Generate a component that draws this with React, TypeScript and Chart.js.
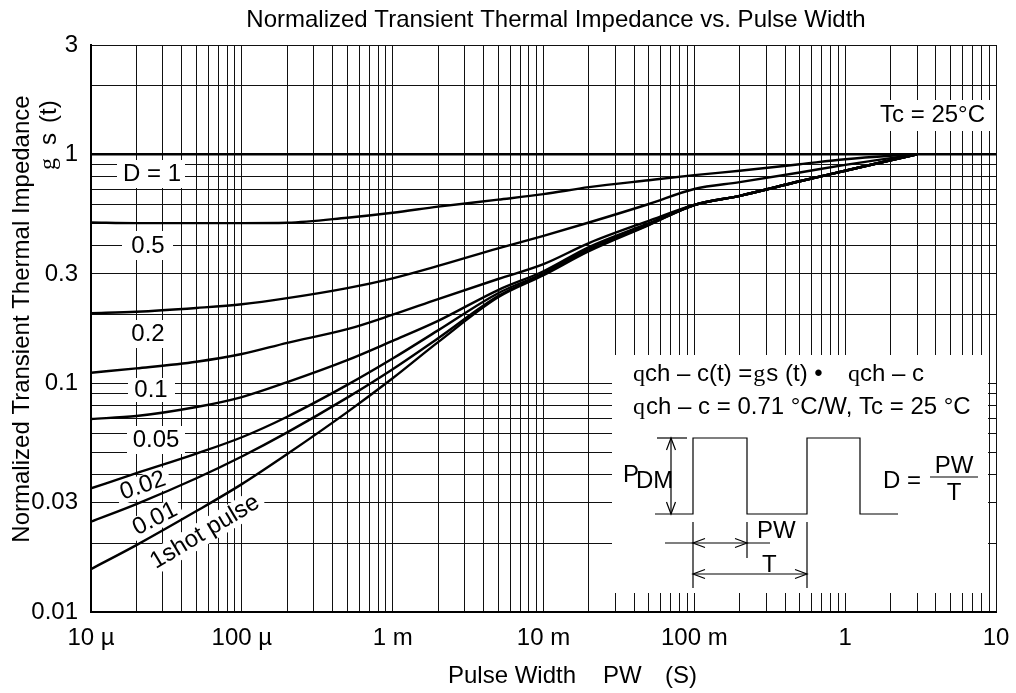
import { useEffect, useRef } from 'react';
import { Chart, registerables } from 'chart.js';

Chart.register(...registerables);

// ---------------- data ----------------
const pulseWidth = [1e-5, 2e-5, 5e-5, 1e-4, 2e-4, 5e-4, 1e-3, 2e-3, 5e-3, 1e-2, 2e-2, 5e-2, 0.1, 0.2, 0.5, 1, 2, 3];
const dutyOneWidth = [1e-5, 10];
const zthD1 = [1, 1];
const zthD05 = [0.503, 0.5, 0.5, 0.5, 0.502, 0.528, 0.555, 0.59, 0.633, 0.669, 0.718, 0.77, 0.81, 0.847, 0.904, 0.951, 0.985, 1];
const zthD02 = [0.202, 0.205, 0.213, 0.221, 0.235, 0.26, 0.287, 0.325, 0.388, 0.44, 0.503, 0.606, 0.705, 0.755, 0.832, 0.898, 0.961, 1];
const zthD01 = [0.111, 0.116, 0.124, 0.134, 0.15, 0.172, 0.199, 0.233, 0.285, 0.331, 0.409, 0.512, 0.6, 0.658, 0.762, 0.847, 0.941, 1];
const zthD005 = [0.0697, 0.0718, 0.0786, 0.0869, 0.101, 0.126, 0.153, 0.187, 0.255, 0.308, 0.393, 0.5, 0.6, 0.658, 0.762, 0.847, 0.941, 1];
const zthD002 = [0.0347, 0.0404, 0.0492, 0.058, 0.0713, 0.0982, 0.128, 0.17, 0.247, 0.302, 0.385, 0.495, 0.6, 0.658, 0.762, 0.847, 0.941, 1];
const zthD001 = [0.0248, 0.0296, 0.0384, 0.0478, 0.0609, 0.0864, 0.115, 0.157, 0.24, 0.299, 0.381, 0.492, 0.6, 0.658, 0.762, 0.847, 0.941, 1];
const zthSingle = [0.0154, 0.0196, 0.0276, 0.0362, 0.049, 0.0747, 0.105, 0.151, 0.237, 0.296, 0.377, 0.49, 0.6, 0.658, 0.762, 0.847, 0.941, 1];

const xTickValues = [1e-5, 1e-4, 1e-3, 1e-2, 1e-1, 1, 10];
const xTickLabels = ['10 µ', '100 µ', '1 m', '10 m', '100 m', '1', '10'];
const yTickValues = [0.01, 0.03, 0.1, 0.3, 1, 3];
const yTickLabels = ['0.01', '0.03', '0.1', '0.3', '1', '3'];

const seriesNames = ['D = 1', '0.5', '0.2', '0.1', '0.05', '0.02', '0.01', '1shot pulse'];

// ---------------- styling / layout ----------------
const SANS = '"Liberation Sans", Arial, Helvetica, sans-serif';
const SERIF = '"Liberation Serif", "Times New Roman", serif';
const F24 = `24px ${SANS}`;
const S24 = `24px ${SERIF}`;

const toPoints = (xs: number[], ys: number[]) => xs.map((x, i) => ({ x, y: ys[i] }));

const logGridTicks = (min: number, max: number) => {
  const out: { value: number }[] = [];
  for (let e = Math.floor(Math.log10(min)); e <= Math.ceil(Math.log10(max)); e++) {
    for (let m = 1; m < 10; m++) {
      const v = parseFloat((m * Math.pow(10, e)).toPrecision(6));
      if (v >= min * 0.99999 && v <= max * 1.00001) out.push({ value: v });
    }
  }
  return out;
};

const labelFor = (vals: number[], labels: string[]) => (value: any) => {
  const v = Number(value);
  const i = vals.findIndex((t) => Math.abs(t - v) / t < 1e-6);
  return i >= 0 ? labels[i] : '';
};

function text(ctx: CanvasRenderingContext2D, s: string, x: number, y: number, font = F24, align: CanvasTextAlign = 'left', base: CanvasTextBaseline = 'alphabetic') {
  ctx.font = font;
  ctx.textAlign = align;
  ctx.textBaseline = base;
  ctx.fillText(s, x, y);
  return x + ctx.measureText(s).width;
}

function line(ctx: CanvasRenderingContext2D, pts: number[][]) {
  ctx.beginPath();
  ctx.moveTo(pts[0][0], pts[0][1]);
  for (let i = 1; i < pts.length; i++) ctx.lineTo(pts[i][0], pts[i][1]);
  ctx.stroke();
}

function arrowHead(ctx: CanvasRenderingContext2D, tx: number, ty: number, dx: number, dy: number) {
  const len = 12, half = 4.5;
  const bx = tx - dx * len, by = ty - dy * len;
  const px = -dy, py = dx;
  line(ctx, [[bx + px * half, by + py * half], [tx, ty], [bx - px * half, by - py * half]]);
}

const overlayPlugin = {
  id: 'overlay',
  beforeDatasetsDraw(chart: any) {
    const ctx: CanvasRenderingContext2D = chart.ctx;
    ctx.save();
    ctx.fillStyle = '#fff';
    ctx.fillRect(612, 355, 376, 238);
    const boxes = [
      [117, 160, 68, 28],
      [122, 231, 51, 29],
      [122, 320, 51, 28],
      [128, 378, 47, 24],
      [127, 426, 58, 28],
      [868, 100, 122, 31],
    ];
    for (const [x, y, w, h] of boxes) ctx.fillRect(x, y, w, h);
    const rot = [
      { cx: 143, cy: 486, w: 56, h: 22, a: -0.33 },
      { cx: 155, cy: 519, w: 56, h: 22, a: -0.47 },
      { cx: 205, cy: 532, w: 132, h: 24, a: -0.54 },
    ];
    for (const r of rot) {
      ctx.save();
      ctx.translate(r.cx, r.cy);
      ctx.rotate(r.a);
      ctx.fillRect(-r.w / 2, -r.h / 2, r.w, r.h);
      ctx.restore();
    }
    ctx.restore();
  },
  afterDatasetsDraw(chart: any) {
    const ctx: CanvasRenderingContext2D = chart.ctx;
    ctx.save();
    ctx.fillStyle = '#000';
    ctx.strokeStyle = '#000';

    text(ctx, 'Normalized Transient Thermal Impedance vs. Pulse Width', 556, 20, F24, 'center', 'middle');
    text(ctx, 'Pulse Width', 448, 676, F24, 'left', 'middle');
    text(ctx, 'PW', 603, 676, F24, 'left', 'middle');
    text(ctx, '(S)', 665, 676, F24, 'left', 'middle');

    ctx.save();
    ctx.translate(22, 319);
    ctx.rotate(-Math.PI / 2);
    text(ctx, 'Normalized Transient Thermal Impedance', 0, 0, F24, 'center', 'middle');
    ctx.restore();
    ctx.save();
    ctx.translate(49, 0);
    ctx.rotate(-Math.PI / 2);
    text(ctx, 'g', -170, 0, S24, 'left', 'middle');
    text(ctx, 's', -145, 0, F24, 'left', 'middle');
    text(ctx, '(t)', -123, 0, F24, 'left', 'middle');
    ctx.restore();

    text(ctx, seriesNames[0], 123, 174, F24, 'left', 'middle');
    text(ctx, seriesNames[1], 148, 246, F24, 'center', 'middle');
    text(ctx, seriesNames[2], 148, 334, F24, 'center', 'middle');
    text(ctx, seriesNames[3], 151, 390, F24, 'center', 'middle');
    text(ctx, seriesNames[4], 156, 440, F24, 'center', 'middle');
    const rl = [
      { s: seriesNames[5], cx: 143, cy: 486, a: -0.33 },
      { s: seriesNames[6], cx: 155, cy: 519, a: -0.47 },
      { s: seriesNames[7], cx: 205, cy: 532, a: -0.54 },
    ];
    for (const r of rl) {
      ctx.save();
      ctx.translate(r.cx, r.cy);
      ctx.rotate(r.a);
      text(ctx, r.s, 0, 0, F24, 'center', 'middle');
      ctx.restore();
    }
    text(ctx, 'Tc = 25°C', 985, 115, F24, 'right', 'middle');

    // inset formulas
    let x = text(ctx, 'q', 633, 381, S24);
    x = text(ctx, 'ch – c(t) =', x, 381);
    x = text(ctx, 'g', x + 1, 381, S24);
    x = text(ctx, 's (t) •', x + 1, 381);
    x = text(ctx, 'q', 848, 381, S24);
    text(ctx, 'ch – c', x, 381);
    x = text(ctx, 'q', 633, 414, S24);
    text(ctx, 'ch – c = 0.71 °C/W, Tc = 25 °C', x + 1, 414);

    // pulse diagram
    ctx.lineWidth = 1.2;
    line(ctx, [[655, 514], [693, 514], [693, 438], [747, 438], [747, 514], [807, 514], [807, 438], [860, 438], [860, 514], [898, 514]]);
    line(ctx, [[657, 438], [687, 438]]);
    line(ctx, [[671, 438], [671, 514]]);
    arrowHead(ctx, 671, 438, 0, -1);
    arrowHead(ctx, 671, 514, 0, 1);
    text(ctx, 'P', 623, 482);
    text(ctx, 'DM', 636, 488);
    line(ctx, [[693, 522], [693, 588]]);
    line(ctx, [[747, 522], [747, 558]]);
    line(ctx, [[807, 522], [807, 588]]);
    line(ctx, [[665, 543], [770, 543]]);
    arrowHead(ctx, 693, 543, -1, 0);
    arrowHead(ctx, 747, 543, 1, 0);
    text(ctx, 'PW', 757, 538);
    line(ctx, [[693, 574], [807, 574]]);
    arrowHead(ctx, 693, 574, -1, 0);
    arrowHead(ctx, 807, 574, 1, 0);
    text(ctx, 'T', 762, 572);
    text(ctx, 'D =', 883, 488);
    text(ctx, 'PW', 954, 473, F24, 'center');
    line(ctx, [[930, 477], [978, 477]]);
    text(ctx, 'T', 954, 500, F24, 'center');

    ctx.restore();
  },
};

export default function App() {
  const ref = useRef<HTMLCanvasElement>(null);
  useEffect(() => {
    const series = [zthD05, zthD02, zthD01, zthD005, zthD002, zthD001, zthSingle];
    const datasets: any[] = [
      { label: seriesNames[0], data: toPoints(dutyOneWidth, zthD1) },
      ...series.map((s, i) => ({ label: seriesNames[i + 1], data: toPoints(pulseWidth, s) })),
    ].map((d) => ({
      ...d,
      borderColor: '#000',
      borderWidth: 2.4,
      pointRadius: 0,
      fill: false,
      cubicInterpolationMode: 'monotone',
    }));

    const gridStyle = { color: '#111', lineWidth: 1, drawTicks: false };
    const chart = new Chart(ref.current as HTMLCanvasElement, {
      type: 'line',
      data: { datasets },
      options: {
        animation: false,
        responsive: false,
        layout: { padding: { left: 0, top: 45, right: 20, bottom: 0 } },
        plugins: { legend: { display: false }, tooltip: { enabled: false }, title: { display: false } },
        scales: {
          x: {
            type: 'logarithmic',
            min: 1e-5,
            max: 10,
            afterBuildTicks: (s: any) => { s.ticks = logGridTicks(1e-5, 10); },
            afterFit: (s: any) => { s.height = 81; s.paddingLeft = 0; s.paddingRight = 0; },
            grid: gridStyle,
            border: { display: true, color: '#000', width: 2 },
            ticks: {
              autoSkip: false,
              maxRotation: 0,
              minRotation: 0,
              padding: 12,
              color: '#000',
              font: { family: SANS, size: 24 },
              callback: labelFor(xTickValues, xTickLabels),
            },
          },
          y: {
            type: 'logarithmic',
            min: 0.01,
            max: 3,
            afterBuildTicks: (s: any) => { s.ticks = logGridTicks(0.01, 3); },
            afterFit: (s: any) => { s.width = 91; s.paddingTop = 0; s.paddingBottom = 0; },
            grid: gridStyle,
            border: { display: true, color: '#000', width: 2 },
            ticks: {
              autoSkip: false,
              padding: 13,
              color: '#000',
              font: { family: SANS, size: 24 },
              callback: labelFor(yTickValues, yTickLabels),
            },
          },
        },
      } as any,
      plugins: [overlayPlugin as any],
    });
    return () => chart.destroy();
  }, []);
  return (
    <div style={{ position: 'absolute', left: 0, top: 0, width: 1016, height: 693, background: '#fff' }}>
      <canvas ref={ref} width={1016} height={693} style={{ display: 'block', width: 1016, height: 693 }} />
    </div>
  );
}
